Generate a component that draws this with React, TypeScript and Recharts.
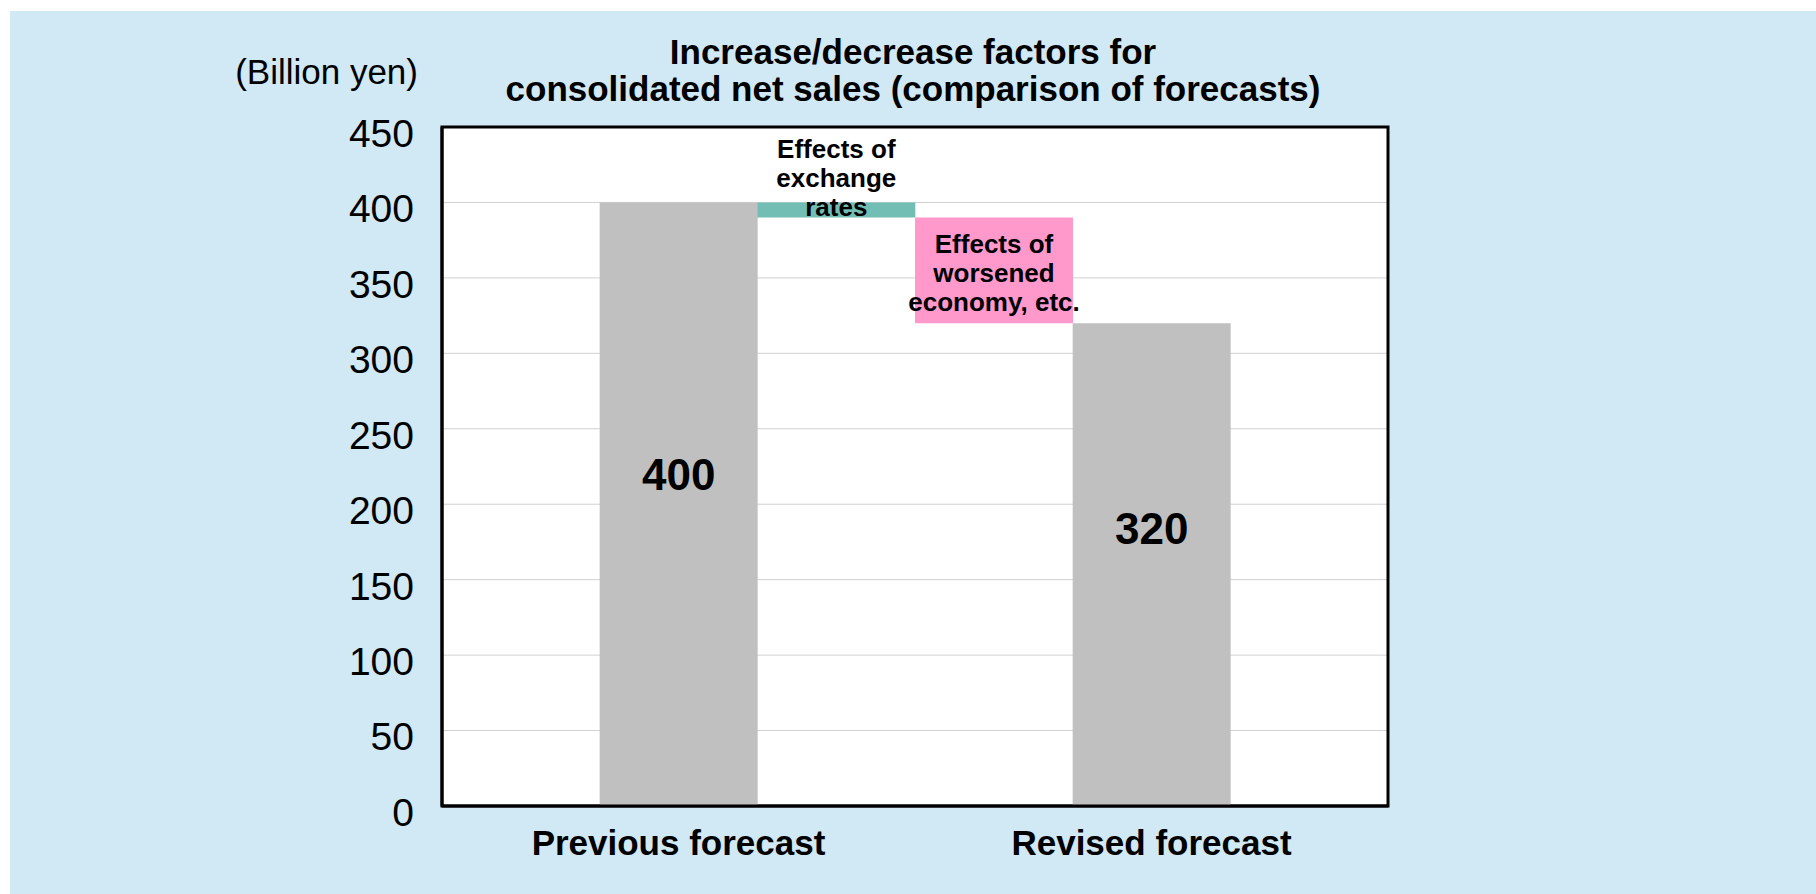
import { BarChart, Bar, Cell, XAxis, YAxis, CartesianGrid, LabelList, ReferenceArea } from "recharts";

// waterfall steps, padded with an empty slot at each end
const steps = ["pad-left", "Previous forecast", "Exchange rates", "Worsened economy", "Revised forecast", "pad-right"];
const axisLabels = ["", "Previous forecast", "", "", "Revised forecast", ""];
const baseValues = [0, 0, 390, 320, 0, 0];
const stepValues = [0, 400, 10, 70, 320, 0];
const totalLabels = ["", "400", "", "", "320", ""];
const noteLines = [
    [],
    [],
    ["Effects of", "exchange", "rates"],
    ["Effects of", "worsened", "economy, etc."],
    [],
    [],
];
const barColors = ["none", "#C0C0C0", "#72BEB5", "#FF99CC", "#C0C0C0", "none"];
const yTicks = [0, 50, 100, 150, 200, 250, 300, 350, 400, 450];

const chartData = steps.map((s, i) => ({
    step: s,
    label: axisLabels[i],
    base: baseValues[i],
    value: stepValues[i],
}));

const FONT = "Arial, 'Liberation Sans', sans-serif";

function StepLabel(props: any) {
    const { x, y, width, height, value } = props;
    const index = steps.indexOf(value);
    if (index < 0) return null;
    const cx = x + width / 2;
    if (totalLabels[index]) {
        const lift = index === 1 ? 30 : 36;
        return (
            <text
                x={cx}
                y={y + height / 2 - lift}
                textAnchor="middle"
                dominantBaseline="central"
                fontFamily={FONT}
                fontWeight="bold"
                fontSize={44}
                fill="#000"
            >
                {totalLabels[index]}
            </text>
        );
    }
    const lines = noteLines[index] || [];
    if (!lines.length) return null;
    // exchange note sits above its thin bar, economy note inside its bar
    const startY = index === 2 ? y - 53 : y + 26;
    return (
        <g>
            {lines.map((t: string, k: number) => (
                <text
                    key={k}
                    x={cx}
                    y={startY + k * 29}
                    textAnchor="middle"
                    dominantBaseline="central"
                    fontFamily={FONT}
                    fontWeight="bold"
                    fontSize={26}
                    fill="#000"
                >
                    {t}
                </text>
            ))}
        </g>
    );
}

export default function App() {
    return (
        <div
            style={{
                position: "absolute",
                left: 10,
                top: 11,
                width: 1806,
                height: 883,
                background: "#D1E8F5",
                fontFamily: FONT,
            }}
        >
            <div
                style={{
                    position: "absolute",
                    left: 303,
                    width: 1200,
                    top: 22,
                    textAlign: "center",
                    fontWeight: "bold",
                    fontSize: 35,
                    lineHeight: "37px",
                    whiteSpace: "nowrap",
                }}
            >
                Increase/decrease factors for
                <br />
                consolidated net sales (comparison of forecasts)
            </div>
            <div
                style={{
                    position: "absolute",
                    right: 1806 - 408,
                    top: 42,
                    fontSize: 35,
                    lineHeight: "38px",
                    whiteSpace: "nowrap",
                }}
            >
                (Billion yen)
            </div>
            <BarChart
                width={1806}
                height={883}
                data={chartData}
                barCategoryGap={0}
                barGap={0}
                margin={{ top: 116, right: 428, bottom: 28, left: 332 }}
                style={{ position: "absolute", left: 0, top: 0 }}
            >
                <CartesianGrid vertical={false} stroke="#D0D0D0" fill="#FFFFFF" />
                <XAxis
                    dataKey="step"
                    height={60}
                    tickFormatter={(v: string) => axisLabels[steps.indexOf(v)]}
                    interval={0}
                    tickLine={false}
                    tickSize={0}
                    tickMargin={24}
                    axisLine={{ stroke: "#000", strokeWidth: 3 }}
                    tick={{ fill: "#000", fontSize: 35, fontWeight: "bold", fontFamily: FONT }}
                />
                <YAxis
                    domain={[0, 450]}
                    ticks={yTicks}
                    width={100}
                    interval={0}
                    tickLine={false}
                    tickSize={0}
                    tickMargin={28}
                    axisLine={{ stroke: "#000", strokeWidth: 3 }}
                    tick={{ fill: "#000", fontSize: 39, fontFamily: FONT, dy: 6 }}
                />
                <Bar dataKey="base" stackId="w" fill="transparent" isAnimationActive={false} />
                <Bar dataKey="value" stackId="w" isAnimationActive={false}>
                    {chartData.map((d, i) => (
                        <Cell key={d.step + i} fill={barColors[i]} />
                    ))}
                    <LabelList dataKey="step" content={StepLabel} />
                </Bar>
                <ReferenceArea
                    x1="pad-left"
                    x2="pad-right"
                    y1={0}
                    y2={450}
                    fill="none"
                    fillOpacity={0}
                    stroke="#000"
                    strokeWidth={3}
                    ifOverflow="visible"
                />
            </BarChart>
        </div>
    );
}
